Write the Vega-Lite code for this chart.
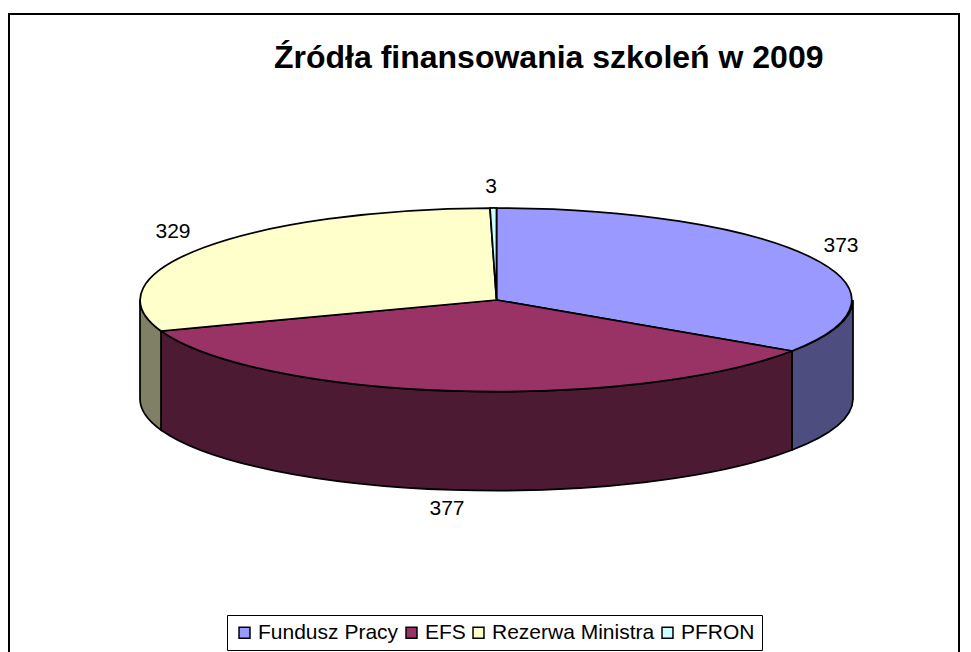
{"$schema":"https://vega.github.io/schema/vega-lite/v6.json","width":950,"height":640,"autosize":"none","padding":{"left":9,"top":14,"right":12,"bottom":0},"background":"white","view":{"stroke":"black","strokeWidth":2,"fill":"white"},"title":{"text":"Źródła finansowania szkoleń w 2009","anchor":"start","frame":"group","dx":265,"dy":65,"font":"Liberation Sans","fontSize":32,"fontWeight":"bold","color":"black"},"data":{"values":[{"name":"Fundusz Pracy","value":373},{"name":"EFS","value":377},{"name":"Rezerwa Ministra","value":329},{"name":"PFRON","value":3}]},"resolve":{"scale":{"color":"independent","shape":"independent"}},"layer":[{"transform":[{"filter":"datum.name !== 'PFRON'"}],"mark":{"type":"point","filled":true,"opacity":1,"size":4,"stroke":"black","strokeWidth":1.75},"encoding":{"color":{"field":"name","type":"nominal","legend":null,"scale":{"domain":["Fundusz Pracy","EFS","Rezerwa Ministra"],"range":["#4D4D80","#4D1A33","#808066"]}},"shape":{"field":"name","type":"nominal","legend":null,"scale":{"domain":["Fundusz Pracy","EFS","Rezerwa Ministra"],"range":["M369,-34A356.5,92 0 0 1 308,17L308,116A356.5,92 0 0 0 369,65Z","M308,17A356.5,92 0 0 1 -323,-3L-323,96A356.5,92 0 0 0 308,116Z","M-323,-3A356.5,92 0 0 1 -344,-34L-344,65A356.5,92 0 0 0 -323,96Z"]}}}},{"mark":{"type":"point","filled":true,"opacity":1,"size":4,"stroke":"black","strokeWidth":1.75},"encoding":{"color":{"field":"name","type":"nominal","scale":{"domain":["Fundusz Pracy","EFS","Rezerwa Ministra","PFRON"],"range":["#9999FF","#993366","#FFFFCC","#CCFFFF"]},"legend":null},"shape":{"field":"name","type":"nominal","legend":null,"scale":{"domain":["Fundusz Pracy","EFS","Rezerwa Ministra","PFRON"],"range":["M12.5,-34L12.5,-126A356.5,92 0 0 1 308,17Z","M12.5,-34L308,17A356.5,92 0 0 1 -323,-3Z","M12.5,-34L-323,-3A356.5,92 0 0 1 6,-126Z","M12.5,-34L6,-126A356.5,92 0 0 1 12.5,-126Z"]}}}},{"mark":{"type":"point","shape":"square","filled":true,"size":0,"strokeWidth":0},"encoding":{"color":{"field":"name","type":"nominal","scale":{"domain":["Fundusz Pracy","EFS","Rezerwa Ministra","PFRON"],"range":["#9999FF","#993366","#FFFFCC","#CCFFFF"]},"legend":{"title":null,"orient":"none","legendX":218,"legendY":601,"direction":"horizontal","columns":4,"symbolType":"square","symbolSize":120,"symbolStrokeColor":"black","symbolStrokeWidth":1.5,"symbolOpacity":1,"labelFont":"Liberation Sans","labelFontSize":21,"labelColor":"black","labelLimit":400,"labelOffset":3,"columnPadding":2,"fillColor":"white","strokeColor":"black","padding":7}}}},{"transform":[{"filter":"datum.name === 'Fundusz Pracy'"}],"mark":{"type":"text","dx":357,"dy":-88,"font":"Liberation Sans","fontSize":21,"color":"black"},"encoding":{"text":{"field":"value","type":"quantitative"}}},{"transform":[{"filter":"datum.name === 'EFS'"}],"mark":{"type":"text","dx":-37,"dy":175,"font":"Liberation Sans","fontSize":21,"color":"black"},"encoding":{"text":{"field":"value","type":"quantitative"}}},{"transform":[{"filter":"datum.name === 'Rezerwa Ministra'"}],"mark":{"type":"text","dx":-311,"dy":-102,"font":"Liberation Sans","fontSize":21,"color":"black"},"encoding":{"text":{"field":"value","type":"quantitative"}}},{"transform":[{"filter":"datum.name === 'PFRON'"}],"mark":{"type":"text","dx":7,"dy":-147,"font":"Liberation Sans","fontSize":21,"color":"black"},"encoding":{"text":{"field":"value","type":"quantitative"}}}]}
